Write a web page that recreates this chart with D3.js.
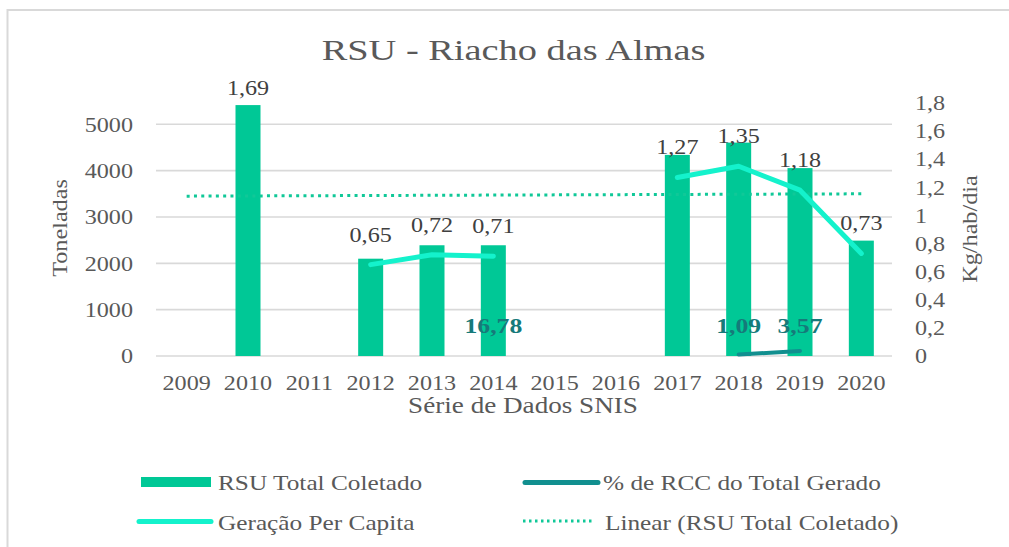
<!DOCTYPE html>
<html>
<head>
<meta charset="utf-8">
<script src="https://cdn.jsdelivr.net/npm/d3@7"></script>
<style>
  html, body { margin: 0; padding: 0; background: #ffffff; }
  svg { display: block; }
</style>
</head>
<body>
<svg id="chart" width="1009" height="547"></svg>
<script>
// ---------- data ----------
const years = ["2009","2010","2011","2012","2013","2014","2015","2016","2017","2018","2019","2020"];
const rsuTotal = [null, 5415, null, 2100, 2390, 2390, null, null, 4340, 4605, 4055, 2490];
const perCapita = [null, 1.69, null, 0.65, 0.72, 0.71, null, null, 1.27, 1.35, 1.18, 0.73];
const rccPct = [null, null, null, null, null, 16.78, null, null, null, 1.09, 3.57, null];
const trendYears = ["2009", "2020"];
const trendValues = [3450, 3500];
const leftTicks = [0, 1000, 2000, 3000, 4000, 5000];
const rightTicks = [0, 0.2, 0.4, 0.6, 0.8, 1.0, 1.2, 1.4, 1.6, 1.8];
const titleText = "RSU - Riacho das Almas";
const xTitle = "Série de Dados SNIS";
const yLeftTitle = "Toneladas";
const yRightTitle = "Kg/hab/dia";
const legendLabels = ["RSU Total Coletado", "% de RCC do Total Gerado", "Geração Per Capita", "Linear (RSU Total Coletado)"];

// ---------- styles ----------
const FONT = '"Liberation Serif", "Times New Roman", serif';
const C_BAR = "#00c896", C_PC = "#14f2cc", C_RCC = "#118f8f", C_RCC_TXT = "#167a7a";
const C_TREND = "#10c898", C_GRID = "#d9d9d9", C_TXT = "#595959", C_LBL = "#404040";
const SX = 1.15;

const svg = d3.select("#chart").style("font-family", FONT);
const W = 1009, H = 547;
const plot = { left: 156, right: 892, top: 103, bottom: 356 };

svg.append("rect").attr("width", W).attr("height", H).attr("fill", "#fff");
// frame
svg.append("rect").attr("x", 7.5).attr("y", 10).attr("width", W + 20).attr("height", H + 20)
  .attr("fill", "none").attr("stroke", C_GRID).attr("stroke-width", 2);

const x = d3.scaleBand().domain(years).range([plot.left, plot.right]).padding(0);
const yL = d3.scaleLinear().domain([0, 5460]).range([plot.bottom, plot.top]);
const yR = d3.scaleLinear().domain([0, 1.8]).range([plot.bottom, plot.top]);
const cx = d => x(d) + x.bandwidth() / 2;
const fmtComma = (v, digits) => v.toFixed(digits).replace(".", ",");

// gridlines
svg.append("g").selectAll("line").data(leftTicks).join("line")
  .attr("x1", plot.left).attr("x2", plot.right)
  .attr("y1", d => yL(d)).attr("y2", d => yL(d))
  .attr("stroke", C_GRID).attr("stroke-width", 1.6);

// left axis
const gL = svg.append("g").attr("transform", `translate(${plot.left},0)`)
  .call(d3.axisLeft(yL).tickValues(leftTicks).tickSize(0).tickPadding(23).tickFormat(d3.format("d")));
gL.select(".domain").remove();
gL.attr("font-family", null);
gL.selectAll("text").attr("x", 0).attr("transform", `translate(-23,0) scale(${SX},1)`)
  .attr("font-size", 21).attr("fill", C_TXT);

// right axis
const gR = svg.append("g").attr("transform", `translate(${plot.right},0)`)
  .call(d3.axisRight(yR).tickValues(rightTicks).tickSize(0).tickPadding(23)
    .tickFormat(d => String(+d.toFixed(1)).replace(".", ",")));
gR.select(".domain").remove();
gR.attr("font-family", null);
gR.selectAll("text").attr("x", 0).attr("transform", `translate(23,0) scale(${SX},1)`)
  .attr("font-size", 21).attr("fill", C_TXT);

// bottom axis
const gB = svg.append("g").attr("transform", `translate(0,${plot.bottom})`)
  .call(d3.axisBottom(x).tickSize(0).tickPadding(19));
gB.select(".domain").remove();
gB.attr("font-family", null);
gB.selectAll("text").attr("transform", `scale(${SX},1)`)
  .attr("font-size", 21).attr("fill", C_TXT);

// bars
const barW = 25;
svg.append("g").selectAll("rect")
  .data(years.map((y, i) => ({ y, v: rsuTotal[i] })).filter(d => d.v != null))
  .join("rect")
  .attr("x", d => cx(d.y) - barW / 2).attr("width", barW)
  .attr("y", d => yL(d.v)).attr("height", d => yL(0) - yL(d.v))
  .attr("fill", C_BAR);

// trend line (dotted)
svg.append("line")
  .attr("x1", cx(trendYears[0])).attr("x2", cx(trendYears[1]))
  .attr("y1", yL(trendValues[0])).attr("y2", yL(trendValues[1]))
  .attr("stroke", C_TREND).attr("stroke-width", 3).attr("stroke-dasharray", "3,4.3");

// helper: contiguous runs
function runs(vals) {
  const out = []; let cur = [];
  vals.forEach((v, i) => {
    if (v != null) cur.push({ y: years[i], v });
    else { if (cur.length) out.push(cur); cur = []; }
  });
  if (cur.length) out.push(cur);
  return out.filter(r => r.length > 1);
}

// per capita line
const linePC = d3.line().x(d => cx(d.y)).y(d => yR(d.v));
svg.append("g").selectAll("path").data(runs(perCapita)).join("path")
  .attr("d", linePC).attr("fill", "none").attr("stroke", C_PC)
  .attr("stroke-width", 5).attr("stroke-linejoin", "round").attr("stroke-linecap", "round");

// RCC line (percent plotted as fraction on right axis)
const lineRCC = d3.line().x(d => cx(d.y)).y(d => yR(d.v / 100));
svg.append("g").selectAll("path").data(runs(rccPct)).join("path")
  .attr("d", lineRCC).attr("fill", "none").attr("stroke", C_RCC)
  .attr("stroke-width", 4).attr("stroke-linecap", "round");

// per capita labels
svg.append("g").selectAll("text")
  .data(years.map((y, i) => ({ y, v: perCapita[i] })).filter(d => d.v != null))
  .join("text")
  .attr("transform", d => `translate(${cx(d.y)},${yR(d.v) - 23}) scale(${SX},1)`)
  .attr("text-anchor", "middle").attr("font-size", 21).attr("fill", C_LBL)
  .text(d => fmtComma(d.v, 2));

// RCC labels
svg.append("g").selectAll("text")
  .data(years.map((y, i) => ({ y, v: rccPct[i] })).filter(d => d.v != null))
  .join("text")
  .attr("transform", d => `translate(${cx(d.y)},${yR(0) - 23}) scale(1.17,1)`)
  .attr("text-anchor", "middle").attr("font-size", 22).attr("font-weight", "bold")
  .attr("fill", C_RCC_TXT)
  .text(d => fmtComma(d.v, 2));

// title
svg.append("text").attr("transform", `translate(513.5,60) scale(1.28,1)`)
  .attr("text-anchor", "middle").attr("font-size", 30).attr("fill", C_TXT).text(titleText);

// axis titles
svg.append("text").attr("transform", `translate(523,413) scale(1.18,1)`)
  .attr("text-anchor", "middle").attr("font-size", 23).attr("fill", C_TXT).text(xTitle);
svg.append("text").attr("transform", `translate(67,228) rotate(-90) scale(1.1,1)`)
  .attr("text-anchor", "middle").attr("font-size", 22).attr("fill", C_TXT).text(yLeftTitle);
svg.append("text").attr("transform", `translate(977,229) rotate(-90) scale(1.1,1)`)
  .attr("text-anchor", "middle").attr("font-size", 22).attr("fill", C_TXT).text(yRightTitle);

// legend
const lg = svg.append("g");
lg.append("rect").attr("x", 141).attr("y", 477).attr("width", 70).attr("height", 10).attr("fill", C_BAR);
lg.append("line").attr("x1", 525).attr("x2", 598).attr("y1", 482.5).attr("y2", 482.5)
  .attr("stroke", C_RCC).attr("stroke-width", 5).attr("stroke-linecap", "round");
lg.append("line").attr("x1", 139).attr("x2", 211).attr("y1", 521.5).attr("y2", 521.5)
  .attr("stroke", C_PC).attr("stroke-width", 5).attr("stroke-linecap", "round");
lg.append("line").attr("x1", 523).attr("x2", 592).attr("y1", 521).attr("y2", 521)
  .attr("stroke", C_TREND).attr("stroke-width", 3).attr("stroke-dasharray", "2.5,3.5");
const legPos = [[218, 490], [603, 490], [218, 530], [605, 530]];
lg.selectAll("text").data(legendLabels).join("text")
  .attr("transform", (d, i) => `translate(${legPos[i][0]},${legPos[i][1]}) scale(${SX},1)`)
  .attr("font-size", 22).attr("fill", C_TXT).text(d => d);

// force the serif family on every text
svg.selectAll("text").style("font-family", FONT);
</script>
</body>
</html>
